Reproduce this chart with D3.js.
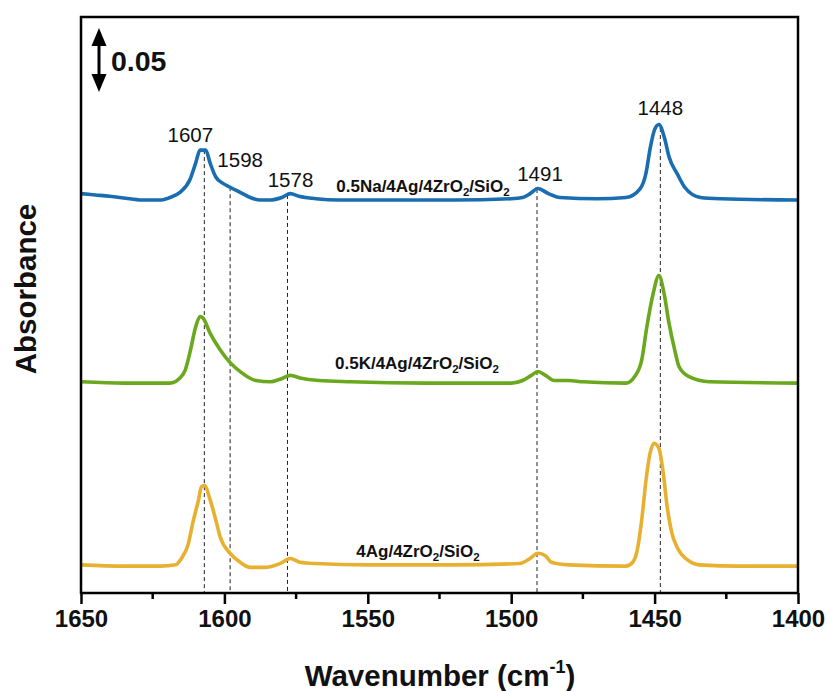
<!DOCTYPE html>
<html>
<head>
<meta charset="utf-8">
<script src="https://cdn.jsdelivr.net/npm/d3@7"></script>
<style>
  body { margin: 0; background: #fff; }
  text { font-family: "Liberation Sans", Arial, sans-serif; }
</style>
</head>
<body>
<script>
// FTIR spectra, three catalysts, offset stacked

var w = 830, h = 691;

// wavenumber / absorbance pairs
var naWn  = [1650,1645,1640,1633,1628,1622,1619,1615.5,1612,1610,1608.5,1606.5,1605,1603,1600.5,1598,1594.5,1591,1587.5,1584,1580,1577,1574,1568,1560,1540,1520,1500,1496,1493.4,1490.7,1487,1483,1470,1460,1455,1453,1451.5,1450,1448.5,1446.5,1445,1442,1439.5,1434,1427,1400];
var naAbs = [0.312,0.311,0.310,0.308,0.307,0.307,0.309,0.313,0.323,0.336,0.346,0.346,0.336,0.325,0.320,0.317,0.313,0.309,0.307,0.307,0.309,0.312,0.310,0.308,0.307,0.307,0.307,0.308,0.309,0.312,0.316,0.312,0.309,0.308,0.309,0.316,0.328,0.348,0.362,0.366,0.355,0.341,0.327,0.317,0.309,0.308,0.307];

var kWn  = [1650,1635,1626,1619,1615.5,1613.7,1612,1610,1608.5,1607.5,1605,1601.5,1598,1594.5,1589,1584,1580.6,1577,1573.6,1567,1556,1530,1500,1496,1493,1490.7,1488,1485,1480,1475,1460,1457,1454.5,1452.7,1450.5,1448.5,1446.7,1445,1443,1441.5,1438,1431,1400];
var kAbs = [0.165,0.164,0.164,0.164,0.168,0.174,0.188,0.208,0.216,0.215,0.203,0.190,0.180,0.173,0.166,0.165,0.167,0.170,0.168,0.166,0.165,0.164,0.164,0.166,0.170,0.173,0.170,0.166,0.166,0.165,0.164,0.169,0.182,0.208,0.234,0.248,0.234,0.211,0.190,0.177,0.169,0.165,0.164];

var agWn  = [1650,1635,1622.5,1617,1615,1612.7,1611,1609,1608,1607,1605,1603,1601.5,1598,1594.5,1591,1586,1580.6,1577,1573.6,1568.4,1550,1520,1497,1493.4,1490.7,1488,1486,1480,1460,1457.6,1456,1454.5,1453,1451.6,1450.2,1448.5,1447,1445.6,1444,1442,1438.6,1434.4,1420,1400];
var agAbs = [0.022,0.021,0.021,0.022,0.027,0.0375,0.055,0.073,0.083,0.084,0.073,0.057,0.044,0.031,0.024,0.020,0.020,0.023,0.027,0.024,0.023,0.022,0.022,0.023,0.027,0.031,0.029,0.024,0.022,0.021,0.024,0.034,0.057,0.088,0.109,0.117,0.113,0.094,0.067,0.047,0.035,0.026,0.022,0.021,0.021];

var seriesNames = [["0.5Na/4Ag/4ZrO", "2", "/SiO", "2"], ["0.5K/4Ag/4ZrO", "2", "/SiO", "2"], ["4Ag/4ZrO", "2", "/SiO", "2"]];
var seriesColors = ["#1a6db0", "#6aa81e", "#e8b030"];

var peaks = [1607, 1598, 1578, 1491, 1448];
var xTicks = [1650, 1600, 1550, 1500, 1450, 1400];
var xMinor = [1625, 1575, 1525, 1475, 1425];
var scaleBar = 0.05;

// layout
var m = {l: 81, r: 798, t: 17, b: 593};
var peakLabelDx = [-14, 10, 3, 3, 0];
var peakLabelDy = [-8, -20, -8, -8, -13];
var nameX = [423, 417, 418];
var nameY = [192, 369, 557];

var x = d3.scaleLinear().domain([1650, 1400]).range([m.l, m.r]);
var y = d3.scaleLinear().domain([0, 0.45]).range([m.b, m.t]);

var svg = d3.select("body").append("svg")
            .attr("width", w)
            .attr("height", h);

var series = [
  {wn: naWn, abs: naAbs},
  {wn: kWn, abs: kAbs},
  {wn: agWn, abs: agAbs}
];

function absAt(s, v) {
  for (var i = 0; i < s.wn.length - 1; i++) {
    var a = s.wn[i], b = s.wn[i + 1];
    if (v <= a && v >= b) {
      var t = (a - v) / (a - b);
      return s.abs[i] + t * (s.abs[i + 1] - s.abs[i]);
    }
  }
  return s.abs[0];
}

// dashed peak markers, from the top spectrum down to the axis
svg.append("g").selectAll("line")
   .data(peaks)
   .enter().append("line")
   .attr("x1", function(d) { return x(d); })
   .attr("x2", function(d) { return x(d); })
   .attr("y1", function(d) { return y(absAt(series[0], d)); })
   .attr("y2", m.b)
   .attr("stroke", "#222")
   .attr("stroke-width", 1)
   .attr("stroke-dasharray", "4,3");

var line = d3.line()
             .x(function(d) { return x(d[0]); })
             .y(function(d) { return y(d[1]); })
             .curve(d3.curveMonotoneX);

svg.append("g").selectAll("path")
   .data(series)
   .enter().append("path")
   .attr("d", function(s) { return line(d3.zip(s.wn, s.abs)); })
   .attr("fill", "none")
   .attr("stroke", function(s, i) { return seriesColors[i]; })
   .attr("stroke-width", 3.6)
   .attr("stroke-linejoin", "round");

// peak labels
svg.append("g").selectAll("text")
   .data(peaks)
   .enter().append("text")
   .attr("x", function(d, i) { return x(d) + peakLabelDx[i]; })
   .attr("y", function(d, i) { return y(absAt(series[0], d)) + peakLabelDy[i]; })
   .attr("text-anchor", "middle")
   .attr("font-size", 20.5)
   .attr("fill", "#111")
   .text(function(d) { return d; });

// series names with subscripts
var names = svg.append("g").selectAll("text")
   .data(seriesNames)
   .enter().append("text")
   .attr("x", function(d, i) { return nameX[i]; })
   .attr("y", function(d, i) { return nameY[i]; })
   .attr("text-anchor", "middle")
   .attr("font-size", 17)
   .attr("font-weight", "bold")
   .attr("fill", "#111");

names.each(function(parts) {
  var t = d3.select(this);
  parts.forEach(function(p, j) {
    var sub = j % 2 === 1;
    t.append("tspan")
     .attr("font-size", sub ? 11.5 : 17)
     .attr("dy", sub ? 4 : (j > 0 ? -4 : 0))
     .text(p);
  });
});

// frame
svg.append("rect")
   .attr("x", m.l).attr("y", m.t)
   .attr("width", m.r - m.l).attr("height", m.b - m.t)
   .attr("fill", "none")
   .attr("stroke", "#000")
   .attr("stroke-width", 2.5);

// bottom axis
var xAxis = svg.append("g")
   .attr("transform", "translate(0," + m.b + ")")
   .call(d3.axisBottom(x).tickValues(xTicks).tickSize(11).tickPadding(6).tickFormat(d3.format("d")));
xAxis.select(".domain").remove();
xAxis.selectAll(".tick line").attr("stroke-width", 2.5);
xAxis.selectAll(".tick text")
     .attr("font-size", 24)
     .attr("font-weight", "bold")
     .attr("fill", "#111")
     .attr("font-family", "Liberation Sans, Arial, sans-serif");

svg.append("g").selectAll("line")
   .data(xMinor)
   .enter().append("line")
   .attr("x1", function(d) { return x(d); })
   .attr("x2", function(d) { return x(d); })
   .attr("y1", m.b)
   .attr("y2", m.b + 6)
   .attr("stroke", "#000")
   .attr("stroke-width", 2.5);

// axis titles
var xt = svg.append("text")
   .attr("x", 440).attr("y", 686)
   .attr("text-anchor", "middle")
   .attr("font-size", 29.5)
   .attr("font-weight", "bold")
   .attr("fill", "#111");
xt.append("tspan").text("Wavenumber (cm");
xt.append("tspan").attr("font-size", 18).attr("dy", -13).text("-1");
xt.append("tspan").attr("dy", 13).text(")");

svg.append("text")
   .attr("transform", "translate(36,289) rotate(-90)")
   .attr("text-anchor", "middle")
   .attr("font-size", 29.5)
   .attr("font-weight", "bold")
   .attr("fill", "#111")
   .text("Absorbance");

// scale bar arrow, 0.05 absorbance
var barTop = 0.4414, ax = 99;
var y0 = y(barTop), y1 = y(barTop - scaleBar);
svg.append("line")
   .attr("x1", ax).attr("x2", ax)
   .attr("y1", y0 + 14).attr("y2", y1 - 14)
   .attr("stroke", "#000").attr("stroke-width", 3);
svg.append("path")
   .attr("d", "M" + ax + "," + y0 + "L" + (ax - 7.5) + "," + (y0 + 18) + "L" + (ax + 7.5) + "," + (y0 + 18) + "Z")
   .attr("fill", "#000");
svg.append("path")
   .attr("d", "M" + ax + "," + y1 + "L" + (ax - 7.5) + "," + (y1 - 18) + "L" + (ax + 7.5) + "," + (y1 - 18) + "Z")
   .attr("fill", "#000");
svg.append("text")
   .attr("x", 111).attr("y", (y0 + y1) / 2 + 10.5)
   .attr("font-size", 28.5)
   .attr("font-weight", "bold")
   .attr("fill", "#111")
   .text(scaleBar.toFixed(2));
</script>
</body>
</html>
